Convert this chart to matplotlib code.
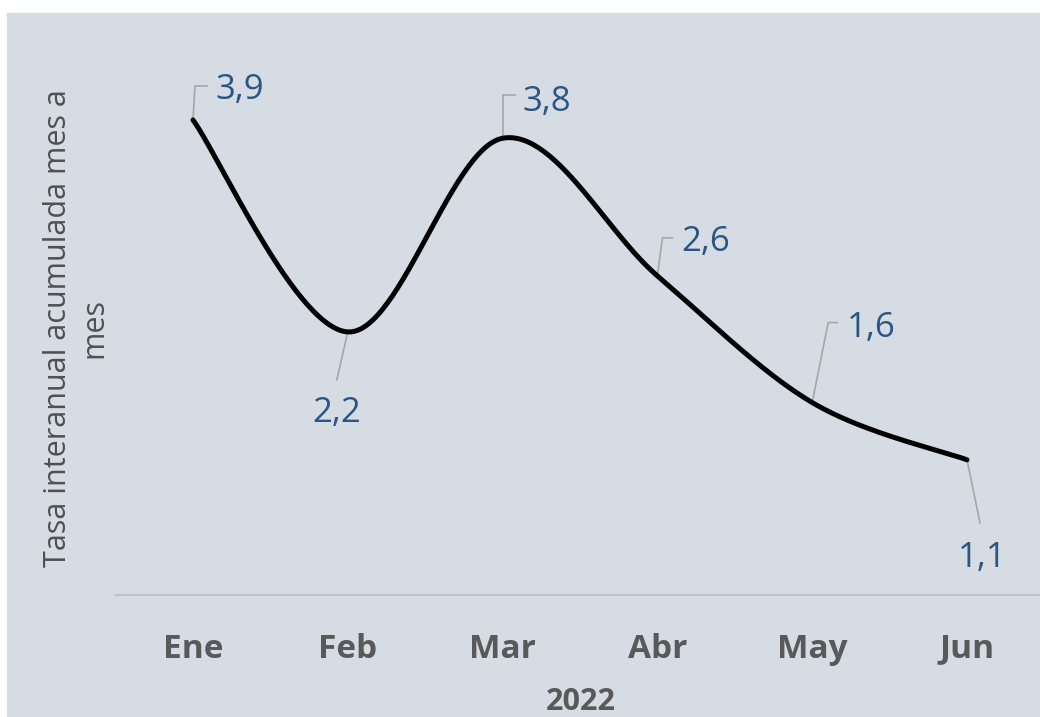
import numpy as np
import matplotlib
matplotlib.use("Agg")
import matplotlib.pyplot as plt
from matplotlib.patches import Rectangle
from matplotlib.transforms import Affine2D, ScaledTranslation

# data
months = ["Ene", "Feb", "Mar", "Abr", "May", "Jun"]
values = [3.90, 2.16, 3.75, 2.62, 1.58, 1.11]
year_label = "2022"
ylabel = "Tasa interanual acumulada mes a\nmes"

# label layout: (elbow dx, elbow dy, tick length, text dx, text baseline dy, ha) in pixels
label_style = [
    (2, 34, 12, 22, 21, "left"),
    (-11, -48, 0, -11, -90, "center"),
    (0, 43, 12, 20, 27, "left"),
    (5, 38, 10, 24, 25, "left"),
    (16, 80, 9, 35, 66, "left"),
    (13, -63, 0, 15, -107, "center"),
]

bg = "#d6dce4"
txt_gray = "#595959"
lbl_blue = "#2b5582"
lead_gray = "#a6a6a6"

plt.rcParams["font.family"] = ["Open Sans", "DejaVu Sans"]

W, H = 1040, 717
fig = plt.figure(figsize=(W / 100, H / 100), dpi=100)
fig.patch.set_facecolor("white")
fig.patches.append(Rectangle((7 / W, 0), 1, (H - 13) / H,
                             transform=fig.transFigure, color=bg, zorder=-5))

left, right = 115.6, 1044.4
bottom, top = 595, 50
ax = fig.add_axes([left / W, (H - bottom) / H, (right - left) / W, (bottom - top) / H])
ax.set_facecolor("none")
ax.set_xlim(-0.5, len(months) - 0.5)
ax.set_ylim(0, (bottom - top) / 121.8)


def smooth(xs, ys, n=60):
    pts = np.column_stack([xs, ys]).astype(float)
    ext = np.vstack([pts[0], pts, pts[-1]])
    out = []
    t = np.linspace(0, 1, n)[:, None]
    for i in range(len(pts) - 1):
        p0, p3 = ext[i + 1], ext[i + 2]
        c1 = p0 + (ext[i + 2] - ext[i]) / 6
        c2 = p3 - (ext[i + 3] - ext[i + 1]) / 6
        seg = ((1 - t) ** 3) * p0 + 3 * ((1 - t) ** 2) * t * c1 + 3 * (1 - t) * t ** 2 * c2 + t ** 3 * p3
        out.append(seg if i == 0 else seg[1:])
    out = np.vstack(out)
    return out[:, 0], out[:, 1]


x = np.arange(len(months))
sx, sy = smooth(x, values)
ax.plot(sx, sy, color="black", lw=3.6, solid_capstyle="round", zorder=3)

for xi, v, st in zip(x, values, label_style):
    ex, ey, tl, tx, ty, ha = st
    tr = Affine2D() + ScaledTranslation(xi, v, ax.transData)
    ax.plot([0, ex, ex + tl], [0, ey, ey], color=lead_gray, lw=1.2,
            transform=tr, zorder=2, clip_on=False)
    ax.annotate(f"{v:.1f}".replace(".", ","), xy=(xi, v), xytext=(tx, ty),
                textcoords="offset pixels", ha=ha, va="baseline",
                color=lbl_blue, fontsize=25)

for s in ["top", "right", "left"]:
    ax.spines[s].set_visible(False)
ax.spines["bottom"].set_color("#bfc4ca")
ax.spines["bottom"].set_linewidth(1.5)
ax.set_yticks([])
ax.set_xticks(x)
ax.set_xticklabels(months, fontsize=24, fontweight="bold", color=txt_gray)
ax.tick_params(axis="x", length=0, pad=27)

fig.text(581 / W, (H - 710) / H, year_label, ha="center", va="baseline",
         fontsize=22, fontweight="bold", color=txt_gray)

fig.text(76 / W, (H - 328) / H, ylabel, rotation=90, ha="center", va="center",
         multialignment="center", fontsize=22, color="#505050", linespacing=1.3)

fig.savefig("out.png", dpi=100, facecolor=fig.get_facecolor())
